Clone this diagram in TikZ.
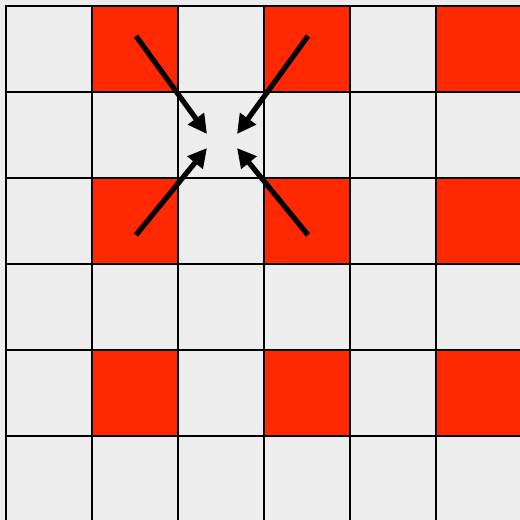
\documentclass[tikz,border=0pt]{standalone}
\usetikzlibrary{arrows.meta}
\definecolor{paper}{RGB}{237,237,237}
\definecolor{hot}{RGB}{255,40,0}
\tikzset{cell/.style={draw, line width=1.8pt, fill=paper, minimum size=86pt, inner sep=0pt, outer sep=0pt},
  hotcell/.style={cell, fill=hot},
  push/.style={line width=5.2pt, -{Triangle[length=19pt, width=19pt]}, shorten >=0pt}}

\begin{document}
\begin{tikzpicture}[x=1pt, y=-1pt]
  \useasboundingbox (0,0) rectangle (520,520);
  \clip (0,0) rectangle (520,520);
  \fill[paper] (0,0) rectangle (520,520);
  \foreach \i in {0,...,5}{
    \foreach \j in {0,...,5}{
      \pgfmathtruncatemacro{\odd}{and(mod(\i,2)==1, mod(\j,2)==0)}
      \ifnum\odd=1
        \node[hotcell] (c\i\j) at (49+86*\i, 49+86*\j) {};
      \else
        \node[cell] (c\i\j) at (49+86*\i, 49+86*\j) {};
      \fi}}
  % arrows pointing into the centre
  \coordinate (tl) at (136,36);
  \coordinate (tr) at (308,36);
  \coordinate (bl) at (136,235);
  \coordinate (br) at (308,235);
  \coordinate (tlend) at (207,134);
  \coordinate (trend) at (237,134);
  \coordinate (blend) at (207,148);
  \coordinate (brend) at (237,148);
  \draw[push] (tl) -- (tlend);
  \draw[push] (tr) -- (trend);
  \draw[push] (bl) -- (blend);
  \draw[push] (br) -- (brend);
\end{tikzpicture}
\end{document}
